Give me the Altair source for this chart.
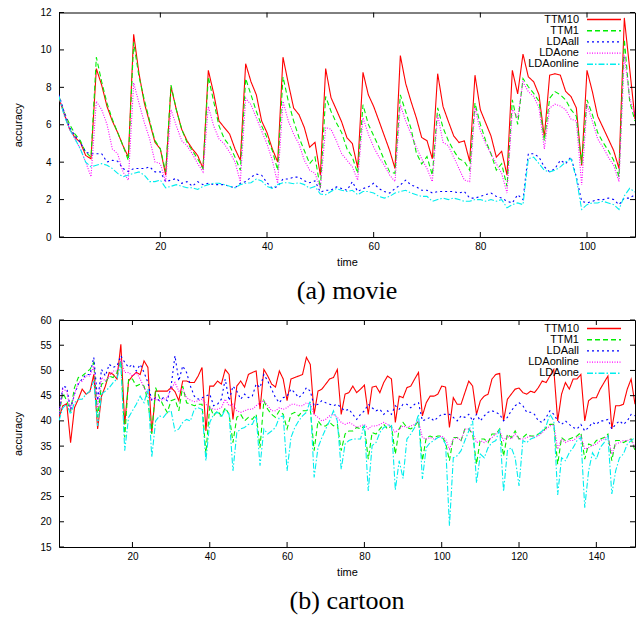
import altair as alt
import pandas as pd

# ---------------- data ----------------
SERIES_A = ["TTM10", "TTM1", "LDAall", "LDAone", "LDAonline"]
SERIES_B = ["TTM10", "TTM1", "LDAall", "LDAonline", "LDAone"]
COLORS = ["#ff0000", "#00ee00", "#0000ff", "#ff00ff", "#00eeee"]
DASHES = [[1, 0], [5, 3], [2, 3], [1, 1.5], [6, 2, 1.5, 2]]

movie_time = list(range(1, 110))
movie_ttm10 = [
    7.43, 6.55, 5.76, 5.32, 5.06, 4.36, 4.18, 9.0, 8.12, 6.98,
    6.2, 5.58, 4.88, 4.27, 10.84, 8.74, 7.16, 6.11, 5.06, 4.71,
    3.31, 8.04, 6.81, 5.76, 5.15, 4.71, 4.36, 3.66, 8.91, 7.68,
    6.2, 5.85, 5.5, 4.71, 4.1, 9.26, 8.3, 7.6, 6.2, 5.58,
    4.71, 4.01, 9.61, 8.21, 6.89, 6.54, 5.85, 4.8, 5.06, 3.31,
    9.0, 7.45, 6.81, 6.15, 5.3, 5.0, 3.7, 8.8, 7.6, 6.98,
    6.2, 5.41, 4.62, 3.66, 9.7, 8.21, 7.25, 6.37, 5.32, 5.15,
    4.18, 8.73, 6.98, 6.18, 5.41, 5.05, 5.14, 4.04, 8.65, 6.8,
    6.1, 5.4, 4.27, 4.58, 3.31, 8.91, 7.65, 9.78, 8.56, 8.3,
    7.6, 5.33, 8.65, 8.73, 8.65, 7.78, 7.51, 6.9, 3.83, 8.91,
    7.78, 6.46, 5.85, 5.24, 4.62, 3.66, 11.71, 9.0, 6.3]
movie_ttm1 = [
    7.51, 6.64, 6.02, 5.5, 5.15, 4.53, 4.27, 9.61, 8.3, 7.16,
    6.29, 5.58, 4.88, 4.1, 10.4, 8.56, 7.33, 6.2, 5.15, 4.71,
    3.48, 8.12, 6.81, 5.76, 5.06, 4.62, 4.18, 3.66, 8.56, 7.25,
    5.94, 5.24, 4.88, 4.27, 3.57, 8.47, 7.6, 6.72, 5.94, 5.32,
    4.62, 3.57, 8.56, 7.25, 6.2, 5.32, 4.62, 3.92, 4.27, 2.61,
    7.51, 6.72, 6.11, 5.58, 4.71, 4.27, 3.4, 7.07, 6.02, 5.41,
    4.8, 4.1, 3.48, 3.4, 7.6, 6.7, 5.8, 4.5, 3.9, 4.3,
    3.3, 6.9, 5.85, 5.15, 4.62, 4.18, 4.04, 3.57, 7.16, 6.02,
    5.15, 4.45, 3.57, 3.92, 2.7, 7.33, 6.02, 8.47, 8.03, 7.68,
    7.25, 5.15, 7.42, 7.77, 7.6, 7.33, 6.81, 6.46, 3.92, 7.33,
    6.55, 5.58, 5.06, 4.62, 4.1, 3.22, 10.57, 7.25, 6.2]
movie_ldaall = [
    7.6, 6.64, 5.85, 5.41, 5.06, 4.53, 4.45, 4.45, 4.45, 4.01,
    4.1, 4.05, 3.66, 3.5, 3.66, 3.66, 3.66, 3.75, 3.48, 3.48,
    2.96, 3.04, 3.13, 2.87, 2.96, 2.71, 2.96, 2.8, 2.87, 2.8,
    2.8, 2.8, 2.71, 2.63, 2.87, 2.96, 3.2, 3.36, 3.3, 2.9,
    2.6, 2.7, 3.1, 3.1, 3.2, 3.2, 3.0, 2.9, 3.0, 2.4,
    2.5, 2.5, 2.68, 2.59, 2.5, 2.96, 2.43, 2.59, 2.68, 2.87,
    2.59, 2.43, 2.35, 2.59, 2.78, 3.04, 2.78, 2.68, 2.5, 2.5,
    2.35, 2.43, 2.43, 2.43, 2.43, 2.35, 2.43, 2.08, 2.08, 2.17,
    2.26, 2.35, 2.17, 2.08, 1.91, 1.82, 2.26, 2.0, 4.45, 4.45,
    4.27, 3.75, 3.48, 3.66, 4.1, 3.92, 4.27, 3.22, 1.91, 1.82,
    1.91, 2.0, 2.0, 2.08, 2.0, 1.73, 2.08, 2.08, 2.26]
movie_ldaone = [
    7.51, 6.64, 5.76, 5.24, 4.71, 4.01, 3.22, 7.25, 6.81, 6.02,
    4.71, 4.45, 3.48, 3.04, 8.24, 7.16, 6.11, 5.24, 4.01, 3.92,
    2.96, 6.81, 5.94, 5.15, 4.88, 4.45, 3.92, 3.48, 6.98, 5.94,
    5.24, 4.97, 4.53, 4.01, 2.96, 7.42, 7.07, 6.37, 5.67, 4.97,
    4.1, 2.87, 7.25, 6.2, 5.5, 4.97, 4.1, 3.57, 3.4, 2.61,
    5.85, 5.76, 5.15, 4.45, 4.1, 3.75, 3.04, 6.37, 5.5, 4.8,
    4.27, 3.83, 3.31, 2.96, 7.07, 6.2, 5.5, 4.8, 4.18, 3.66,
    2.96, 6.55, 5.06, 4.88, 4.27, 3.66, 3.04, 2.96, 6.9, 5.67,
    4.97, 4.45, 3.92, 3.4, 2.35, 6.81, 6.37, 8.29, 7.77, 7.51,
    6.9, 4.71, 6.9, 7.1, 7.0, 6.8, 6.3, 6.2, 2.78, 7.07,
    6.2, 5.24, 4.8, 4.27, 3.83, 2.96, 9.7, 7.42, 6.46]
movie_ldaonline = [
    7.51, 6.46, 5.76, 5.24, 4.71, 4.0, 3.75, 3.84, 3.92, 3.84,
    3.66, 3.4, 3.22, 3.31, 3.4, 3.48, 3.31, 2.96, 2.96, 3.04,
    2.63, 2.71, 2.8, 2.71, 2.63, 2.63, 2.54, 2.71, 2.8, 2.87,
    2.87, 2.8, 2.71, 2.63, 2.8, 2.87, 2.9, 3.1, 3.0, 2.7,
    2.6, 2.8, 2.9, 2.9, 2.85, 2.9, 2.8, 2.6, 2.7, 2.3,
    2.26, 2.43, 2.59, 2.5, 2.43, 2.5, 2.26, 2.43, 2.43, 2.35,
    2.17, 2.08, 2.17, 2.35, 2.43, 2.5, 2.35, 2.26, 2.17, 2.17,
    1.91, 2.0, 2.08, 2.0, 2.08, 2.0, 1.91, 1.91, 2.0, 2.0,
    1.91, 2.0, 1.91, 2.0, 1.56, 1.73, 1.82, 1.73, 4.18, 4.27,
    3.92, 3.57, 3.48, 3.57, 3.75, 4.01, 4.18, 3.13, 1.47, 1.73,
    1.82, 1.82, 1.91, 1.82, 1.73, 1.47, 2.2, 2.6, 2.4]

cartoon_time = list(range(1, 151))
cartoon_ttm10 = [
    40.7, 43.0, 43.4, 35.7, 42.6, 44.3, 46.3, 45.3, 45.8, 49.2,
    38.4, 44.9, 46.9, 49.6, 49.2, 48.3, 55.2, 39.3, 47.9, 48.9,
    49.6, 49.2, 51.9, 50.6, 37.7, 45.9, 45.9, 45.9, 45.9, 46.6,
    45.8, 44.0, 47.9, 47.9, 47.6, 47.6, 48.9, 50.6, 38.0, 46.9,
    46.9, 47.9, 47.3, 50.2, 49.2, 40.3, 46.9, 47.9, 46.7, 49.2,
    49.6, 49.9, 42.3, 50.2, 48.9, 47.3, 46.7, 49.9, 48.3, 44.0,
    48.3, 48.6, 48.9, 49.2, 52.6, 51.2, 41.3, 45.9, 46.3, 47.3,
    48.3, 48.6, 50.2, 41.3, 45.3, 45.6, 46.9, 45.6, 46.3, 47.1,
    41.3, 46.7, 46.9, 45.6, 47.6, 48.9, 48.3, 39.7, 44.9, 44.6,
    46.6, 46.9, 48.3, 49.6, 41.0, 43.6, 44.9, 44.9, 45.3, 46.9,
    46.7, 38.7, 44.6, 43.3, 43.3, 45.6, 47.9, 46.9, 41.3, 44.0,
    44.9, 45.3, 48.3, 49.2, 49.4, 40.0, 44.3, 45.3, 46.3, 46.5,
    45.6, 45.3, 45.9, 45.6, 46.6, 47.9, 47.6, 48.9, 50.2, 40.0,
    45.3, 47.6, 46.3, 48.3, 48.3, 49.2, 40.0, 44.0, 44.6, 44.6,
    46.3, 47.6, 48.9, 38.4, 43.0, 43.0, 43.3, 46.3, 48.3, 43.3]
cartoon_ttm1 = [
    41.3, 45.6, 44.0, 42.0, 46.6, 48.6, 48.9, 49.6, 50.2, 51.6,
    40.7, 47.3, 47.6, 48.9, 48.6, 49.6, 51.9, 36.7, 48.3, 48.3,
    46.9, 47.3, 46.9, 44.0, 37.4, 46.6, 44.6, 43.0, 41.7, 44.0,
    44.3, 42.0, 46.9, 43.6, 43.3, 43.0, 43.3, 43.3, 33.5, 43.0,
    41.0, 42.0, 41.0, 42.6, 41.3, 35.7, 40.7, 41.3, 40.0, 40.7,
    40.3, 41.3, 34.7, 44.0, 42.3, 41.3, 40.7, 42.0, 41.3, 38.4,
    41.3, 41.7, 41.0, 42.0, 42.0, 42.3, 34.1, 40.0, 39.0, 39.0,
    39.7, 39.0, 39.3, 34.1, 37.4, 38.0, 38.0, 38.7, 38.4, 39.0,
    32.4, 37.7, 37.4, 38.4, 39.3, 38.4, 39.0, 33.4, 38.4, 39.7,
    38.7, 38.4, 39.0, 40.0, 32.1, 36.7, 37.0, 36.7, 37.0, 37.0,
    35.7, 32.1, 36.7, 36.7, 36.1, 38.4, 38.4, 37.4, 31.4, 36.4,
    36.4, 35.7, 37.4, 37.4, 38.4, 33.0, 37.4, 36.7, 38.0, 36.4,
    36.7, 37.4, 37.0, 37.0, 37.4, 37.7, 38.7, 39.3, 39.3, 31.4,
    36.7, 36.1, 36.4, 36.7, 37.0, 37.7, 32.4, 35.4, 35.1, 36.1,
    36.4, 36.7, 37.4, 32.1, 36.1, 36.1, 35.7, 36.1, 36.4, 34.1]
cartoon_ldaall = [
    41.3, 46.9, 46.6, 42.3, 45.3, 47.3, 48.3, 49.2, 49.2, 52.6,
    44.0, 50.2, 48.9, 51.2, 50.6, 50.9, 52.9, 51.6, 50.6, 51.2,
    49.9, 51.2, 49.6, 47.6, 44.0, 44.6, 44.0, 44.6, 44.0, 46.9,
    52.9, 47.9, 50.9, 49.6, 46.9, 44.9, 44.3, 44.6, 44.9, 45.3,
    43.0, 43.3, 44.3, 48.3, 44.0, 46.9, 45.9, 44.3, 45.3, 44.6,
    44.9, 47.3, 46.6, 49.2, 47.9, 46.3, 44.6, 43.6, 44.6, 44.9,
    46.3, 45.6, 44.6, 45.3, 46.6, 45.9, 43.0, 43.3, 44.0, 43.6,
    43.3, 43.0, 43.3, 42.6, 42.0, 42.3, 41.3, 40.3, 41.3, 42.0,
    43.3, 42.6, 42.0, 42.3, 41.3, 42.0, 41.3, 43.0, 42.3, 43.3,
    43.3, 42.6, 43.3, 43.6, 40.0, 40.3, 40.7, 40.0, 40.7, 41.3,
    41.3, 41.3, 40.7, 40.0, 41.0, 40.7, 41.3, 40.0, 41.3, 40.0,
    41.0, 41.7, 42.0, 41.7, 41.3, 40.0, 40.7, 42.0, 43.0, 43.6,
    43.0, 41.7, 41.7, 41.3, 40.0, 39.7, 40.7, 42.0, 41.3, 40.0,
    39.3, 40.0, 39.3, 38.7, 38.4, 39.3, 38.0, 38.7, 39.7, 39.3,
    40.0, 40.0, 40.3, 38.4, 39.3, 40.0, 39.3, 40.0, 41.3, 41.0]
cartoon_ldaonline = [
    41.3, 46.3, 45.9, 42.0, 45.3, 47.6, 47.9, 48.9, 48.9, 50.9,
    42.6, 48.6, 47.9, 48.9, 49.9, 49.9, 52.2, 49.6, 49.6, 48.9,
    49.6, 48.3, 46.6, 45.3, 44.3, 44.3, 44.0, 44.3, 44.6, 46.3,
    47.6, 45.9, 46.3, 44.6, 44.1, 43.8, 44.0, 44.3, 43.3, 42.6,
    42.3, 42.3, 42.6, 44.3, 43.0, 43.3, 42.0, 41.7, 42.0, 42.3,
    42.3, 43.0, 43.6, 44.0, 43.0, 42.0, 42.0, 42.6, 42.3, 42.6,
    43.3, 43.3, 43.0, 43.0, 43.6, 43.3, 41.3, 40.7, 40.0, 40.3,
    41.0, 41.3, 40.7, 39.7, 39.3, 39.7, 39.3, 38.7, 39.0, 39.3,
    38.4, 39.0, 39.0, 39.3, 39.7, 39.3, 38.7, 37.7, 38.4, 39.0,
    38.7, 39.0, 39.3, 40.0, 36.7, 36.4, 36.7, 36.4, 36.7, 37.0,
    36.4, 34.4, 36.4, 36.7, 36.1, 38.4, 38.4, 37.7, 35.7, 36.1,
    35.7, 36.1, 36.7, 37.4, 38.0, 36.1, 37.0, 36.4, 37.4, 36.4,
    36.4, 36.7, 37.0, 36.7, 37.0, 37.7, 38.4, 39.0, 39.3, 34.4,
    36.4, 35.7, 36.1, 36.1, 36.7, 37.0, 34.4, 34.7, 35.1, 35.4,
    36.1, 36.4, 37.0, 33.4, 35.4, 35.7, 36.1, 36.1, 36.4, 34.7]
cartoon_ldaone = [
    40.0, 42.6, 43.3, 41.3, 43.6, 44.3, 44.3, 45.3, 45.9, 47.9,
    39.0, 45.3, 45.9, 46.6, 47.6, 48.3, 51.6, 34.1, 40.7, 42.0,
    43.3, 44.9, 43.6, 46.3, 32.8, 40.0, 41.0, 40.7, 41.7, 42.0,
    38.0, 38.4, 39.7, 40.3, 40.0, 42.3, 42.6, 42.3, 32.1, 39.7,
    41.3, 41.7, 40.7, 42.3, 41.3, 30.1, 37.7, 38.4, 38.7, 39.3,
    39.3, 41.0, 31.1, 38.4, 37.4, 38.0, 38.7, 40.7, 41.0, 30.1,
    36.7, 38.7, 40.0, 41.0, 41.7, 44.0, 28.8, 34.7, 36.7, 38.4,
    40.0, 42.0, 40.0, 30.4, 35.4, 36.1, 36.4, 36.4, 36.4, 39.3,
    26.1, 35.1, 35.7, 37.7, 38.7, 39.0, 39.3, 26.3, 32.1, 28.6,
    36.4, 37.4, 38.7, 41.3, 28.5, 34.7, 35.7, 36.1, 36.7, 36.7,
    35.4, 19.2, 32.7, 33.1, 34.1, 36.1, 38.0, 40.0, 27.7, 33.4,
    32.7, 34.7, 35.7, 36.1, 38.4, 26.0, 34.1, 34.7, 32.7, 27.1,
    36.1, 35.7, 36.4, 36.7, 37.4, 38.0, 39.0, 41.3, 40.0, 25.3,
    32.7, 32.1, 33.7, 34.7, 36.1, 36.7, 22.8, 30.1, 33.7, 32.4,
    34.7, 35.7, 37.0, 25.5, 30.1, 32.7, 33.4, 35.4, 36.1, 36.7]

MOVIE_XTICKS = [20, 40, 60, 80, 100]
MOVIE_YTICKS = [0, 2, 4, 6, 8, 10, 12]
CARTOON_XTICKS = [20, 40, 60, 80, 100, 120, 140]
CARTOON_YTICKS = [15, 20, 25, 30, 35, 40, 45, 50, 55, 60]

W = 576
FONT = "Liberation Sans"


def panel(times, names, values, xdomain, xticks, ydomain, yticks, H, title, leg0):
    rows = []
    for name, vals in zip(names, values):
        for t, v in zip(times, vals):
            rows.append({"time": t, "accuracy": v, "series": name})
    df = pd.DataFrame(rows)

    X = alt.X("time:Q", scale=alt.Scale(domain=xdomain, nice=False, zero=False),
              axis=alt.Axis(values=xticks, title="time", labelPadding=4, titlePadding=5))
    Y = alt.Y("accuracy:Q", scale=alt.Scale(domain=ydomain, nice=False, zero=False),
              axis=alt.Axis(values=yticks, title="accuracy", labelPadding=8, titlePadding=16))

    layers = []
    for i, name in enumerate(names):
        layers.append(
            alt.Chart(df).transform_filter(alt.datum.series == name)
            .mark_line(color=COLORS[i], strokeDash=DASHES[i], strokeWidth=1.1, clip=True)
            .encode(x=X, y=Y)
        )

    ydf = pd.DataFrame({"accuracy": yticks})
    xdf = pd.DataFrame({"time": xticks})
    layers.append(alt.Chart(ydf).mark_rule(color="black").encode(
        y=Y, x=alt.value(0), x2=alt.value(5)))
    layers.append(alt.Chart(ydf).mark_rule(color="black").encode(
        y=Y, x=alt.value(W - 5), x2=alt.value(W)))
    layers.append(alt.Chart(xdf).mark_rule(color="black").encode(
        x=X, y=alt.value(H - 5), y2=alt.value(H)))
    layers.append(alt.Chart(xdf).mark_rule(color="black").encode(
        x=X, y=alt.value(0), y2=alt.value(5)))

    leg = pd.DataFrame({"series": names, "row": list(range(len(names)))})
    ly = alt.Y("ly:Q", scale=None, axis=None)
    expr = f"{leg0} + datum.row * 11.2"
    layers.append(
        alt.Chart(leg).transform_calculate(ly=expr)
        .mark_text(align="right", baseline="middle", font=FONT, fontSize=11, color="black")
        .encode(x=alt.value(520), y=ly, text="series:N")
    )
    for i, name in enumerate(names):
        layers.append(
            alt.Chart(leg).transform_filter(alt.datum.series == name)
            .transform_calculate(ly=expr)
            .mark_rule(color=COLORS[i], strokeDash=DASHES[i], strokeWidth=1.4)
            .encode(x=alt.value(528), x2=alt.value(562), y=ly)
        )

    return alt.layer(*layers).properties(
        width=W, height=H,
        title=alt.TitleParams(title, orient="bottom", offset=11),
    )


top = panel(movie_time, SERIES_A,
            [movie_ttm10, movie_ttm1, movie_ldaall, movie_ldaone, movie_ldaonline],
            [1, 109], MOVIE_XTICKS, [0, 12], MOVIE_YTICKS, 224.5, "(a) movie", 7)
bottom = panel(cartoon_time, SERIES_B,
               [cartoon_ttm10, cartoon_ttm1, cartoon_ldaall, cartoon_ldaonline, cartoon_ldaone],
               [1, 150], CARTOON_XTICKS, [15, 60], CARTOON_YTICKS, 227, "(b) cartoon", 8.5)

chart = (
    alt.vconcat(top, bottom, spacing=9.5)
    .properties(padding={"left": 4, "top": -1.5, "right": 0, "bottom": 0})
    .configure_view(stroke="black", strokeWidth=1)
    .configure_axis(labelFont=FONT, titleFont=FONT, labelFontSize=10, titleFontSize=11,
                    titleFontWeight="normal", labelColor="black", titleColor="black",
                    grid=False, domain=False, ticks=False, tickSize=0)
    .configure_title(font="Liberation Serif", fontSize=26, fontWeight="normal", color="black")
)

chart.save("out.html", embed_options={"renderer": "svg", "actions": False})
